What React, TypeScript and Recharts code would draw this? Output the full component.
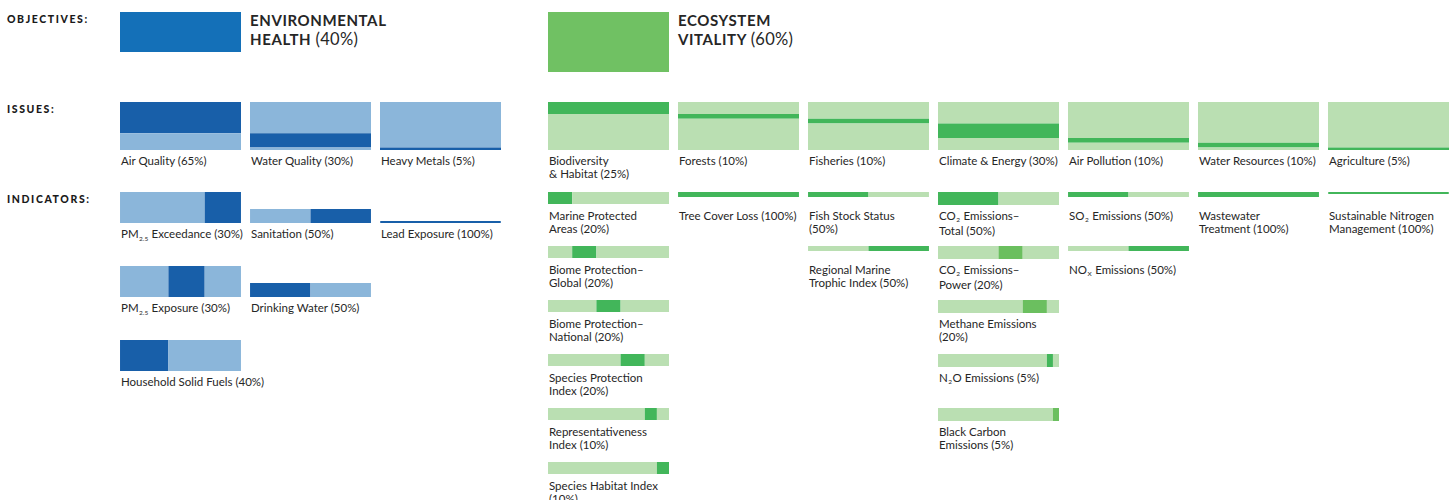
import React from "react";
import { BarChart, Bar, XAxis, YAxis } from "recharts";

// ---------- DATA ----------
const rowTitles = ["OBJECTIVES:", "ISSUES:", "INDICATORS:"];

const objectiveNames = ["ENVIRONMENTAL\nHEALTH", "ECOSYSTEM\nVITALITY"];
const objectiveWeights = [40, 60];

const issueLabels = [
  "Air Quality (65%)",
  "Water Quality (30%)",
  "Heavy Metals (5%)",
  "Biodiversity\n& Habitat (25%)",
  "Forests (10%)",
  "Fisheries (10%)",
  "Climate & Energy (30%)",
  "Air Pollution (10%)",
  "Water Resources (10%)",
  "Agriculture (5%)",
];
const issueWeights = [65, 30, 5, 25, 10, 10, 30, 10, 10, 5];
const issueObjective = [0, 0, 0, 1, 1, 1, 1, 1, 1, 1];

const indicatorLabels = [
  "PM_{2.5} Exceedance (30%)",
  "PM_{2.5} Exposure (30%)",
  "Household Solid Fuels (40%)",
  "Sanitation (50%)",
  "Drinking Water (50%)",
  "Lead Exposure (100%)",
  "Marine Protected\nAreas (20%)",
  "Biome Protection–\nGlobal (20%)",
  "Biome Protection–\nNational (20%)",
  "Species Protection\nIndex (20%)",
  "Representativeness\nIndex (10%)",
  "Species Habitat Index\n(10%)",
  "Tree Cover Loss (100%)",
  "Fish Stock Status\n(50%)",
  "Regional Marine\nTrophic Index (50%)",
  "CO_{2} Emissions–\nTotal (50%)",
  "CO_{2} Emissions–\nPower (20%)",
  "Methane Emissions\n(20%)",
  "N_{2}O Emissions (5%)",
  "Black Carbon\nEmissions (5%)",
  "SO_{2} Emissions (50%)",
  "NO_{X} Emissions (50%)",
  "Wastewater\nTreatment (100%)",
  "Sustainable Nitrogen\nManagement (100%)",
];
const indicatorWeights = [30, 30, 40, 50, 50, 100, 20, 20, 20, 20, 10, 10, 100, 50, 50, 50, 20, 20, 5, 5, 50, 50, 100, 100];
const indicatorIssue = [0, 0, 0, 1, 1, 2, 3, 3, 3, 3, 3, 3, 4, 5, 5, 6, 6, 6, 6, 6, 7, 7, 8, 9];

// ---------- STYLE / LAYOUT ----------
const FONT = "Lato, 'Open Sans', sans-serif";
const TEXT = "#262626";
const objColor = ["#1470b8", "#70c163"];
const darkColor = ["#185fa9", "#42b65a"];
const lightColor = ["#8bb6da", "#badfb2"];
const midGreen = "#6bbf5f";
const midIndicators = [16, 17, 19];

const COL_W = 121;
const COL_PITCH = 130;
const objX = [120, 548];
const OBJ_Y = 12;
const OBJ_SCALE = 100;
const ISSUE_Y = 102;
const ISSUE_H = 48;
const IND_Y = 192;
const rowPitch = [74, 54];
const maxThick = [32, 12.5];
const bottomAlign = [true, false];
const stackFromEnd = [true, false];

const M = { top: 0, right: 0, bottom: 0, left: 0 };

function richLine(s: string) {
  const parts = s.split(/_\{([^}]*)\}/);
  return parts.map((p, i) =>
    i % 2 === 1 ? (
      <span key={i} style={{ fontSize: 6.5, position: "relative", top: 2.5, marginLeft: 0.5, marginRight: 0.5 }}>
        {p}
      </span>
    ) : (
      <React.Fragment key={i}>{p}</React.Fragment>
    )
  );
}

function Label({ x, y, text }: { x: number; y: number; text: string }) {
  return (
    <div
      style={{
        position: "absolute",
        left: x,
        top: y,
        fontFamily: FONT,
        fontSize: 11.5,
        lineHeight: "13px",
        color: TEXT,
        whiteSpace: "nowrap",
      }}
    >
      {text.split("\n").map((ln, i) => (
        <div key={i}>{richLine(ln)}</div>
      ))}
    </div>
  );
}

function VStackCell({ x, y, h, domain, segs, colors }: { x: number; y: number; h: number; domain: number; segs: number[]; colors: string[] }) {
  const row: any = { k: "c" };
  segs.forEach((v, i) => (row["s" + i] = v));
  return (
    <div style={{ position: "absolute", left: x, top: y }}>
      <BarChart width={COL_W} height={h} data={[row]} margin={M} barCategoryGap={0} barGap={0}>
        <XAxis dataKey="k" type="category" hide />
        <YAxis type="number" domain={[0, domain]} reversed hide />
        {segs.map((_, i) => (
          <Bar key={i} dataKey={"s" + i} stackId="s" fill={colors[i]} isAnimationActive={false} />
        ))}
      </BarChart>
    </div>
  );
}

function HStackCell({ x, y, h, segs, colors }: { x: number; y: number; h: number; segs: number[]; colors: string[] }) {
  const row: any = { k: "c" };
  segs.forEach((v, i) => (row["s" + i] = v));
  return (
    <div style={{ position: "absolute", left: x, top: y }}>
      <BarChart layout="vertical" width={COL_W} height={h} data={[row]} margin={M} barCategoryGap={0} barGap={0}>
        <XAxis type="number" domain={[0, 100]} hide />
        <YAxis dataKey="k" type="category" hide />
        {segs.map((_, i) => (
          <Bar key={i} dataKey={"s" + i} stackId="s" fill={colors[i]} isAnimationActive={false} />
        ))}
      </BarChart>
    </div>
  );
}

export default function App() {
  const els: React.ReactNode[] = [];

  // row titles
  [OBJ_Y, ISSUE_Y, IND_Y].forEach((y, i) =>
    els.push(
      <div
        key={"rt" + i}
        style={{
          position: "absolute",
          left: 7,
          top: y + 1,
          fontFamily: FONT,
          fontWeight: 900,
          fontSize: 10.5,
          letterSpacing: 1.6,
          lineHeight: "13px",
          color: "#1a1a1a",
        }}
      >
        {rowTitles[i]}
      </div>
    )
  );

  // objectives
  objectiveWeights.forEach((w, o) => {
    els.push(
      <VStackCell key={"ob" + o} x={objX[o]} y={OBJ_Y} h={OBJ_SCALE} domain={100} segs={[w]} colors={[objColor[o]]} />
    );
    const [l1, l2] = objectiveNames[o].split("\n");
    els.push(
      <div
        key={"obt" + o}
        style={{
          position: "absolute",
          left: objX[o] + 130,
          top: OBJ_Y - 1,
          fontFamily: FONT,
          fontSize: 15,
          lineHeight: "19px",
          letterSpacing: 0.6,
          color: TEXT,
          whiteSpace: "nowrap",
        }}
      >
        <div style={{ fontWeight: 700 }}>{l1}</div>
        <div>
          <span style={{ fontWeight: 700 }}>{l2} </span>
          <span style={{ fontWeight: 400, fontSize: 16.5, letterSpacing: 0.3 }}>({w}%)</span>
        </div>
      </div>
    );
  });

  // issues
  const issueCol: number[] = [];
  const issueBefore: number[] = [];
  const colCount = [0, 0];
  const cum = [0, 0];
  issueWeights.forEach((w, i) => {
    const o = issueObjective[i];
    issueCol.push(colCount[o]++);
    issueBefore.push(cum[o]);
    cum[o] += w;
  });
  issueWeights.forEach((w, i) => {
    const o = issueObjective[i];
    const x = objX[o] + issueCol[i] * COL_PITCH;
    const b = issueBefore[i];
    els.push(
      <VStackCell
        key={"is" + i}
        x={x}
        y={ISSUE_Y}
        h={ISSUE_H}
        domain={100}
        segs={[b, w, 100 - b - w]}
        colors={[lightColor[o], darkColor[o], lightColor[o]]}
      />
    );
    els.push(<Label key={"il" + i} x={x + 1} y={ISSUE_Y + ISSUE_H + 4} text={issueLabels[i]} />);
  });

  // indicators
  issueWeights.forEach((iw, is) => {
    const o = issueObjective[is];
    const x = objX[o] + issueCol[is] * COL_PITCH;
    const idx = indicatorIssue.map((v, k) => (v === is ? k : -1)).filter((k) => k >= 0);
    const slot = (Math.max(...issueWeights.filter((_, k) => issueObjective[k] === o)) / 100) * ISSUE_H;
    const slotH = Math.min(slot, maxThick[o]);
    const thick = Math.min((iw / 100) * ISSUE_H, maxThick[o]);
    const order = stackFromEnd[o] ? [...idx].reverse() : idx;
    const before: Record<number, number> = {};
    let c = 0;
    order.forEach((k) => {
      before[k] = c;
      c += indicatorWeights[k];
    });
    idx.forEach((k, r) => {
      const rowTop = IND_Y + r * rowPitch[o];
      const top = rowTop + (bottomAlign[o] ? slotH - thick : 0);
      const w = indicatorWeights[k];
      const b = before[k];
      const dk = o === 1 && midIndicators.includes(k) ? midGreen : darkColor[o];
      els.push(
        <HStackCell
          key={"in" + k}
          x={x}
          y={top}
          h={thick}
          segs={[b, w, 100 - b - w]}
          colors={[lightColor[o], dk, lightColor[o]]}
        />
      );
      els.push(<Label key={"inl" + k} x={x + 1} y={rowTop + slotH + 4} text={indicatorLabels[k]} />);
    });
  });

  return (
    <div
      style={{
        position: "absolute",
        left: 0,
        top: 0,
        width: 1450,
        height: 500,
        background: "#ffffff",
        overflow: "hidden",
      }}
    >
      {els}
    </div>
  );
}
